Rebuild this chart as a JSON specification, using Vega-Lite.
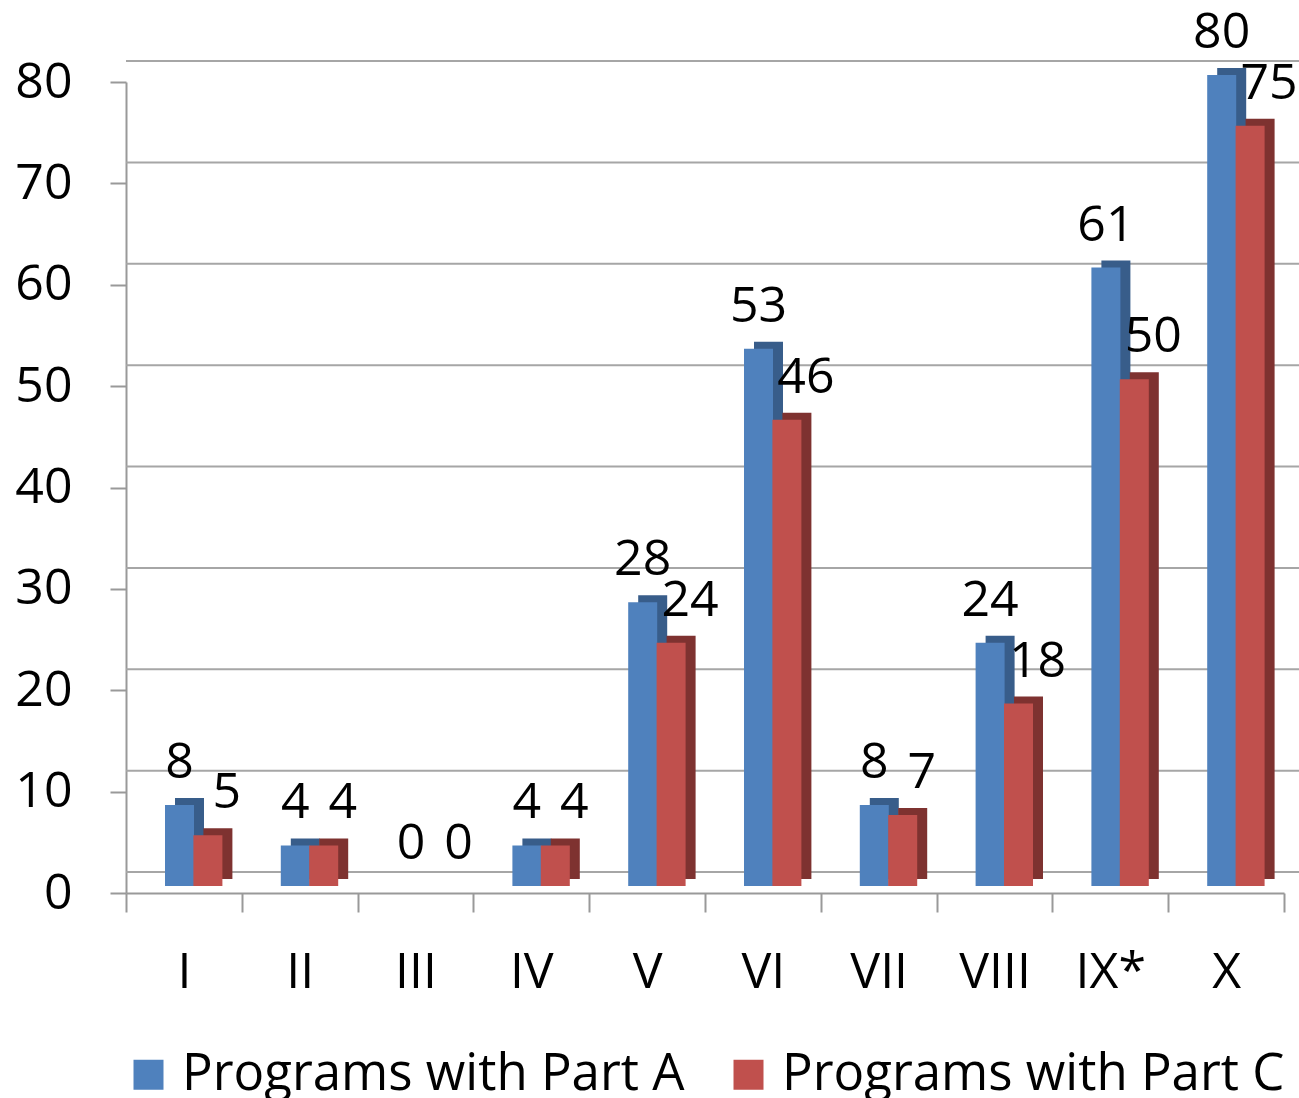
{
  "$schema": "https://vega.github.io/schema/vega-lite/v6.json",
  "autosize": {"type": "none"},
  "width": 1158,
  "height": 811,
  "padding": {"left": 126, "top": 82, "right": 15, "bottom": 205},
  "datasets": {
    "bars": [
      {"group": "I", "series": "Programs with Part A", "value": 8},
      {"group": "I", "series": "Programs with Part C", "value": 5},
      {"group": "II", "series": "Programs with Part A", "value": 4},
      {"group": "II", "series": "Programs with Part C", "value": 4},
      {"group": "III", "series": "Programs with Part A", "value": 0},
      {"group": "III", "series": "Programs with Part C", "value": 0},
      {"group": "IV", "series": "Programs with Part A", "value": 4},
      {"group": "IV", "series": "Programs with Part C", "value": 4},
      {"group": "V", "series": "Programs with Part A", "value": 28},
      {"group": "V", "series": "Programs with Part C", "value": 24},
      {"group": "VI", "series": "Programs with Part A", "value": 53},
      {"group": "VI", "series": "Programs with Part C", "value": 46},
      {"group": "VII", "series": "Programs with Part A", "value": 8},
      {"group": "VII", "series": "Programs with Part C", "value": 7},
      {"group": "VIII", "series": "Programs with Part A", "value": 24},
      {"group": "VIII", "series": "Programs with Part C", "value": 18},
      {"group": "IX*", "series": "Programs with Part A", "value": 61},
      {"group": "IX*", "series": "Programs with Part C", "value": 50},
      {"group": "X", "series": "Programs with Part A", "value": 80},
      {"group": "X", "series": "Programs with Part C", "value": 75}
    ],
    "grid": [
      {"v": 0}, {"v": 10}, {"v": 20}, {"v": 30}, {"v": 40},
      {"v": 50}, {"v": 60}, {"v": 70}, {"v": 80}
    ]
  },
  "data": {"name": "bars"},
  "encoding": {
    "x": {
      "field": "group",
      "type": "nominal",
      "scale": {
        "domain": ["I", "II", "III", "IV", "V", "VI", "VII", "VIII", "IX*", "X"],
        "paddingInner": 0,
        "paddingOuter": 0
      },
      "axis": {
        "title": null,
        "labelAngle": 0,
        "labelFontSize": 50,
        "labelBaseline": "alphabetic",
        "labelPadding": 75,
        "tickBand": "extent",
        "tickSize": 19,
        "tickColor": "#999999",
        "tickWidth": 2,
        "domainColor": "#999999",
        "domainWidth": 2
      }
    },
    "y": {
      "field": "value",
      "type": "quantitative",
      "scale": {"domain": [0, 80], "nice": false},
      "axis": {
        "title": null,
        "values": [0, 10, 20, 30, 40, 50, 60, 70, 80],
        "grid": false,
        "labelFontSize": 50,
        "labelPadding": 38,
        "tickSize": 16,
        "tickColor": "#999999",
        "tickWidth": 2,
        "domainColor": "#999999",
        "domainWidth": 2
      }
    }
  },
  "layer": [
    {
      "data": {"name": "grid"},
      "mark": {"type": "rule", "color": "#a6a6a6", "strokeWidth": 2, "xOffset": 29, "yOffset": -21},
      "encoding": {"x": null, "y": {"field": "v", "type": "quantitative"}}
    },
    {
      "transform": [{"filter": "datum.series == 'Programs with Part A'"}],
      "mark": {"type": "bar", "width": 29, "color": "#385d8a", "xOffset": 5.6, "yOffset": -14}
    },
    {
      "transform": [{"filter": "datum.series == 'Programs with Part A'"}],
      "mark": {"type": "bar", "width": 29, "xOffset": -4.4, "yOffset": -7},
      "encoding": {
        "color": {
          "field": "series",
          "type": "nominal",
          "scale": {
            "domain": ["Programs with Part A", "Programs with Part C"],
            "range": ["#4f81bd", "#c0504d"]
          },
          "legend": {
            "title": null,
            "orient": "none",
            "direction": "horizontal",
            "legendX": -3,
            "legendY": 967,
            "labelFontSize": 51,
            "labelLimit": 0,
            "labelOffset": 8,
            "columnPadding": 38,
            "symbolType": "square",
            "symbolSize": 900,
            "symbolStrokeWidth": 0,
            "symbolOpacity": 1
          }
        }
      }
    },
    {
      "transform": [{"filter": "datum.series == 'Programs with Part C'"}],
      "mark": {"type": "bar", "width": 29, "color": "#7e3230", "xOffset": 34, "yOffset": -14}
    },
    {
      "transform": [{"filter": "datum.series == 'Programs with Part C'"}],
      "mark": {"type": "bar", "width": 29, "xOffset": 24, "yOffset": -7},
      "encoding": {"color": {"field": "series", "type": "nominal"}}
    },
    {
      "transform": [{"filter": "datum.series == 'Programs with Part A'"}],
      "mark": {"type": "text", "fontSize": 50, "baseline": "alphabetic", "align": "center", "xOffset": -4.4, "dy": -34, "color": "#000000"},
      "encoding": {"text": {"field": "value", "type": "quantitative"}}
    },
    {
      "transform": [{"filter": "datum.series == 'Programs with Part C'"}],
      "mark": {"type": "text", "fontSize": 50, "baseline": "alphabetic", "align": "center", "xOffset": 43, "dy": -34, "color": "#000000"},
      "encoding": {"text": {"field": "value", "type": "quantitative"}}
    }
  ],
  "config": {
    "font": "Open Sans",
    "view": {"stroke": null},
    "axis": {"labelColor": "#000000"},
    "legend": {"labelColor": "#000000"}
  }
}
